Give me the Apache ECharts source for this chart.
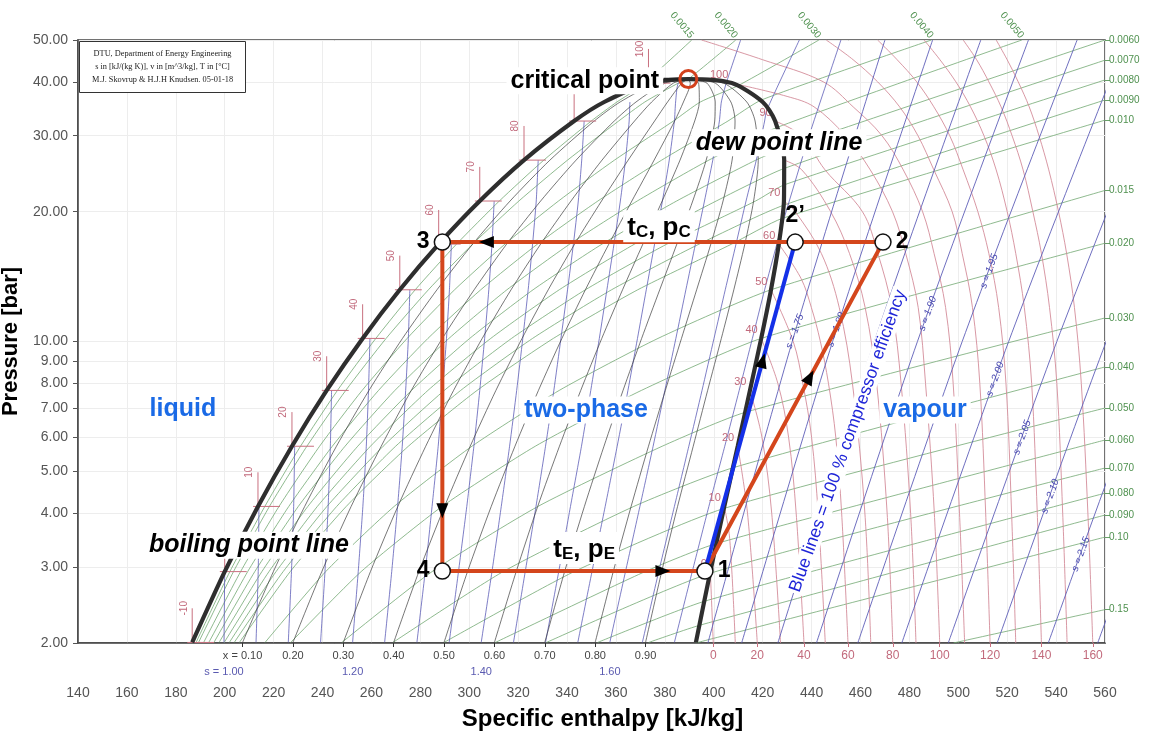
<!DOCTYPE html>
<html>
<head>
<meta charset="utf-8">
<title>R134a log p-h diagram</title>
<script src="https://cdn.jsdelivr.net/npm/echarts@6.0.0/dist/echarts.min.js"></script>
<style>
html,body{margin:0;padding:0;background:#ffffff;}
#chart{width:1149px;height:736px;}
</style>
</head>
<body>
<div id="chart"></div>
<script>
// ================= DATA =================
const pTicks = [2, 3, 4, 5, 6, 7, 8, 9, 10, 20, 30, 40, 50];

// saturation curve
const satT = [-10, 0, 10, 20, 30, 40, 50, 60, 70, 80, 90, 95, 100];
const satP = [2.006, 2.928, 4.146, 5.717, 7.702, 10.166, 13.179, 16.818, 21.168, 26.332, 32.442, 35.912, 39.724];
const satLiqH = [186.7, 200.0, 213.6, 227.5, 241.7, 256.4, 271.6, 287.5, 304.3, 322.4, 342.9, 355.2, 373.3];
const satVapH = [392.7, 398.6, 404.3, 409.8, 414.8, 419.4, 423.4, 426.6, 428.7, 428.8, 425.1, 420.0, 407.4];
const critH = 389.6, critP = 40.59;

// constant quality lines (h at satP, then critical point)
const qualityLabels = ['x = 0.10', '0.20', '0.30', '0.40', '0.50', '0.60', '0.70', '0.80', '0.90'];
const qualityH = [
  [207.3, 219.9, 232.7, 245.7, 259.0, 272.7, 286.8, 301.4, 316.7, 333.0, 351.1, 361.7, 376.7],
  [227.9, 239.7, 251.7, 264.0, 276.3, 289.0, 302.0, 315.3, 329.2, 343.7, 359.3, 368.2, 380.1],
  [248.5, 259.6, 270.8, 282.2, 293.6, 305.3, 317.1, 329.2, 341.6, 354.3, 367.6, 374.6, 383.5],
  [269.1, 279.4, 289.9, 300.4, 310.9, 321.6, 332.3, 343.1, 354.1, 365.0, 375.8, 381.1, 386.9],
  [289.7, 299.3, 309.0, 318.7, 328.3, 337.9, 347.5, 357.1, 366.5, 375.6, 384.0, 387.6, 390.4],
  [310.3, 319.2, 328.0, 336.9, 345.6, 354.2, 362.7, 371.0, 378.9, 386.2, 392.2, 394.1, 393.8],
  [330.9, 339.0, 347.1, 355.1, 362.9, 370.5, 377.9, 384.9, 391.4, 396.9, 400.4, 400.6, 397.2],
  [351.5, 358.9, 366.2, 373.3, 380.2, 386.8, 393.0, 398.8, 403.8, 407.5, 408.7, 407.0, 400.6],
  [372.1, 378.7, 385.2, 391.6, 397.5, 403.1, 408.2, 412.7, 416.3, 418.2, 416.9, 413.5, 404.0]
];

// isentropes in the two-phase region (h at satP) + continuation
const sWetNames = ['1.00', '1.05', '1.10', '1.15', '1.20', '1.25', '1.30', '1.35', '1.40', '1.45', '1.50', '1.55', '1.60', '1.65', '1.70'];
const sWetH = [
  [199.7, 200.0],
  [212.8, 213.7, 214.0],
  [226.0, 227.3, 228.2, 228.6],
  [239.2, 241.0, 242.3, 243.2, 243.7],
  [252.3, 254.6, 256.5, 257.9, 258.8, 259.4],
  [265.4, 268.3, 270.7, 272.6, 274.0, 275.1, 275.7],
  [278.6, 282.0, 284.8, 287.3, 289.1, 290.7, 291.9, 292.7],
  [291.8, 295.6, 299.0, 301.9, 304.3, 306.3, 308.0, 309.3, 310.2],
  [304.9, 309.3, 313.1, 316.5, 319.4, 321.9, 324.1, 325.9, 327.4, 328.2],
  [318.1, 322.9, 327.3, 331.2, 334.6, 337.5, 340.2, 342.6, 344.6, 346.0, 347.0],
  [331.2, 336.6, 341.4, 345.9, 349.7, 353.2, 356.3, 359.2, 361.8, 363.9, 365.4, 365.7],
  [344.4, 350.2, 355.6, 360.5, 364.9, 368.8, 372.4, 375.8, 379.0, 381.8, 383.9, 384.4, 385.5],
  [357.5, 363.9, 369.8, 375.2, 380.0, 384.5, 388.6, 392.5, 396.2, 399.6, 402.3, 403.1, 405.1],
  [370.8, 377.5, 383.9, 389.8, 395.2, 400.1, 404.7, 409.1, 413.2, 417.4, 420.8],
  [383.9, 391.2, 398.0, 404.5, 410.4, 415.8, 420.8, 425.8]
];
const sWetTail = [[], [], [], [], [], [], [], [], [], [], [],
  [[389.6, 40.59]],
  [[411.0, 50]],
  [[421.6, 34.3], [435.0, 50]],
  [[427.3, 18.1], [439.0, 30], [452.0, 50]]
];

// isentropes in the vapour region: h at 2, 10 and 50 bar
const sVapNames = ['1.75', '1.80', '1.85', '1.90', '1.95', '2.00', '2.05', '2.10', '2.15', '2.20'];
const sVapP = [2, 10, 50];
const sVapH = [
  [397.6, 432.1, 470.0],
  [411.4, 448.6, 489.5],
  [426.2, 465.7, 509.2],
  [442.0, 483.3, 528.7],
  [458.9, 501.6, 548.6],
  [476.9, 520.6, 568.6],
  [495.9, 540.3, 589.0],
  [515.9, 560.5, 610.0],
  [536.8, 582.0, 632.0],
  [557.0, 603.0, 653.0]
];

// isotherms in the vapour / supercritical region: [h, p]
const isothermT = [0, 10, 20, 30, 40, 50, 60, 70, 80, 90, 100, 110, 120, 130, 140, 150, 160];
const isothermHP = [
  [[398.6, 2.928], [399.8, 2.0]],
  [[404.3, 4.146], [406.5, 3.5], [408.8, 2.0]],
  [[409.8, 5.717], [413.8, 4.0], [417.8, 2.0]],
  [[414.8, 7.702], [419.7, 6.0], [423.7, 4.0], [427.3, 2.0]],
  [[419.4, 10.166], [426.2, 8.0], [430.6, 6.0], [433.7, 4.0], [436.9, 2.0]],
  [[423.4, 13.179], [432.5, 10.0], [436.4, 8.0], [440.0, 6.0], [442.7, 4.0], [445.6, 2.0]],
  [[426.6, 16.818], [435.7, 14.0], [439.9, 12.0], [443.6, 10.0], [446.9, 8.0], [449.9, 6.0], [452.3, 4.0], [454.9, 2.0]],
  [[428.7, 21.168], [433.3, 20.0], [444.0, 16.0], [451.3, 12.0], [456.7, 8.0], [461.8, 4.0], [464.2, 2.0]],
  [[428.8, 26.332], [436.0, 25.0], [447.8, 20.0], [455.5, 16.0], [461.9, 12.0], [466.6, 8.0], [470.9, 4.0], [473.2, 2.0]],
  [[425.1, 32.442], [435.8, 30.0], [445.5, 25.0], [460.8, 20.0], [467.1, 16.0], [472.8, 12.0], [476.6, 8.0], [480.5, 4.0], [482.7, 2.0]],
  [[407.4, 39.724], [430.0, 37.0], [441.0, 35.0], [453.8, 30.0], [464.0, 25.0], [473.1, 20.0], [478.5, 16.0], [483.6, 12.0], [486.6, 8.0], [490.2, 4.0], [492.4, 2.0]],
  [[395.0, 50.0], [420.0, 45.0], [444.8, 40.0], [457.0, 35.0], [468.8, 30.0], [477.5, 25.0], [485.4, 20.0], [490.1, 16.0], [494.8, 12.0], [497.9, 8.0], [500.5, 4.0], [502.6, 2.0]],
  [[446.0, 50.0], [457.0, 45.0], [467.0, 40.0], [476.0, 35.0], [483.5, 30.0], [490.0, 25.0], [497.5, 20.0], [501.6, 16.0], [505.8, 12.0], [508.8, 8.0], [511.2, 4.0], [513.0, 2.0]],
  [[467.0, 50.0], [475.0, 45.0], [483.0, 40.0], [490.0, 35.0], [496.5, 30.0], [502.0, 25.0], [508.0, 20.0], [512.5, 16.0], [516.5, 12.0], [519.5, 8.0], [521.8, 4.0], [523.5, 2.0]],
  [[486.0, 50.0], [492.5, 45.0], [499.0, 40.0], [505.0, 35.0], [510.5, 30.0], [515.5, 25.0], [520.0, 20.0], [523.5, 16.0], [527.0, 12.0], [530.0, 8.0], [532.3, 4.0], [534.0, 2.0]],
  [[502.0, 50.0], [507.5, 45.0], [512.5, 40.0], [517.5, 35.0], [522.0, 30.0], [526.5, 25.0], [530.5, 20.0], [534.0, 16.0], [537.3, 12.0], [540.3, 8.0], [542.7, 4.0], [544.5, 2.0]],
  [[515.5, 50.0], [520.0, 45.0], [524.5, 40.0], [529.0, 35.0], [533.0, 30.0], [537.0, 25.0], [541.0, 20.0], [544.3, 16.0], [547.5, 12.0], [550.3, 8.0], [553.0, 4.0], [555.0, 2.0]]
];

// isochores: h at satP inside the dome, then [h, p] continuation
const isochoreNames = ['0.0015', '0.0020', '0.0030', '0.0040', '0.0050', '0.0060', '0.0070', '0.0080', '0.0090', '0.010', '0.015', '0.020', '0.030', '0.040', '0.050', '0.060', '0.070', '0.080', '0.090', '0.10', '0.15'];
const isochoreWetH = [
  [188.3, 202.1, 216.4, 231.0, 246.1, 261.8, 277.9, 294.8, 312.3, 330.5, 349.9, 360.4],
  [189.3, 203.6, 218.3, 233.6, 249.5, 266.0, 283.3, 301.4, 320.3, 340.2, 361.1, 371.8, 385.5],
  [191.4, 206.5, 222.2, 238.8, 256.2, 274.6, 294.0, 314.6, 336.5, 359.4, 383.5, 394.5],
  [193.5, 209.4, 226.2, 244.0, 262.9, 283.1, 304.7, 327.9, 352.6, 378.7, 405.8],
  [195.6, 212.3, 230.1, 249.2, 269.6, 291.7, 315.4, 341.1, 368.7, 398.0],
  [197.7, 215.2, 234.0, 254.4, 276.4, 300.2, 326.1, 354.3, 384.8, 417.2],
  [199.8, 218.1, 237.9, 259.6, 283.1, 308.8, 336.8, 367.6, 401.0],
  [201.9, 221.0, 241.8, 264.8, 289.8, 317.3, 347.5, 380.8, 417.1],
  [203.9, 223.9, 245.8, 269.9, 296.5, 325.9, 358.2, 394.0],
  [206.0, 226.8, 249.7, 275.1, 303.2, 334.4, 368.9, 407.3],
  [216.5, 241.3, 269.3, 301.1, 336.8, 377.2],
  [227.0, 255.8, 288.9, 327.0, 370.4],
  [247.9, 284.8, 328.1, 378.9],
  [268.8, 313.9, 367.3],
  [289.7, 342.9],
  [310.7, 371.9],
  [331.6],
  [352.5],
  [373.4],
  [],
  []
];
const isochoreTail = [
  [[370.0, 39.0], [391.0, 50]],
  [[389.6, 40.59], [409.0, 50]],
  [[410.0, 39.2], [443.0, 50]],
  [[419.5, 36.3], [489.0, 50]],
  [[426.2, 31.4], [526.0, 50]],
  [[428.5, 28.0], [560.0, 50]],
  [[428.9, 25.2], [560.0, 44.9]],
  [[429.0, 23.1], [560.0, 40.4]],
  [[428.6, 20.7], [560.0, 36.3]],
  [[428.1, 19.3], [560.0, 32.6]],
  [[423.4, 13.18], [560.0, 22.4]],
  [[419.4, 10.166], [560.0, 16.9]],
  [[412.8, 6.85], [560.0, 11.34]],
  [[408.0, 5.1], [560.0, 8.73]],
  [[404.1, 4.1], [560.0, 7.01]],
  [[401.0, 3.4], [560.0, 5.91]],
  [[398.4, 2.9], [560.0, 5.09]],
  [[396.3, 2.5], [560.0, 4.45]],
  [[394.4, 2.2], [560.0, 3.96]],
  [[392.6, 2.0], [560.0, 3.52]],
  [[498.0, 2.0], [560.0, 2.39]]
];

// refrigeration cycle state points
const cycleNames = ['1', '2\u2019', '2', '3', '4'];
const cycleH = [396.4, 433.3, 469.2, 289.0, 289.0];
const cycleP = [2.937, 17.0, 17.0, 17.0, 2.937];

// ================= BUILD =================
const LG = v => Math.log10(v);
const PT = (h, p) => [h, LG(p)];
const F = "'Liberation Sans', Arial, Helvetica, sans-serif";
const FN = "'Liberation Sans Narrow', 'Liberation Sans', Arial, sans-serif";
const COL = {
  isen: '#5d5db8', iso: '#d48c9a', vol: '#72a872', qual: '#3c3c3c', dome: '#2e2e2e',
  cyc: '#d4461c', blue: '#1430e8', txtBlue: '#1a6ae6', pinkTxt: '#c26a7c', greenTxt: '#4f914f'
};
const TRANSP = { color: 'rgba(0,0,0,0)', opacity: 1 };
const NOBORDER = { textBorderWidth: 0, textShadowBlur: 0, opacity: 1 };
const series = [];
function addLine(pairs, color, width, z, smooth, extra) {
  series.push(Object.assign({
    type: 'line', data: pairs.map(q => PT(q[0], q[1])), symbol: 'none', showSymbol: false,
    silent: true, smooth: smooth || false, lineStyle: { color: color, width: width, opacity: 1 },
    z: z, animation: false, clip: true
  }, extra || {}));
}
function lookupFmt(vals, texts) {
  return function (v) {
    for (let i = 0; i < vals.length; i++) if (Math.abs(vals[i] - v) < 1e-6) return texts[i];
    return '';
  };
}

// isochores
isochoreNames.forEach((n, k) => {
  const pairs = isochoreWetH[k].map((h, i) => [h, satP[i]]).concat(isochoreTail[k]);
  addLine(pairs, COL.vol, 0.8, 1, 0.2);
});
// isotherms
isothermT.forEach((t, k) => addLine(isothermHP[k], COL.iso, 0.9, 1, 0.35));
// isentropes
sWetNames.forEach((n, k) => {
  const pairs = sWetH[k].map((h, i) => [h, satP[i]]).concat(sWetTail[k]);
  addLine(pairs, COL.isen, 0.8, 1, 0.2);
});
sVapNames.forEach((n, k) => addLine(sVapH[k].map((h, i) => [h, sVapP[i]]), COL.isen, 0.9, 1, 0.3));
// quality lines
qualityLabels.forEach((n, k) => {
  const pairs = qualityH[k].map((h, i) => [h, satP[i]]).concat([[critH, critP]]);
  addLine(pairs, COL.qual, 0.7, 2, 0.25);
});
// temperature crosses on the boiling line + labels
const crossLabels = [];
satT.forEach((t, i) => {
  if (t % 10 !== 0) return;
  const hf = satLiqH[i], p = satP[i];
  addLine([[hf - 2, p], [hf + 9, p]], '#c9707f', 1, 2);
  addLine([[hf, p], [hf, p * 1.2]], '#c9707f', 1, 2);
  crossLabels.push({ value: PT(hf - 3.4, p * 1.2), label: { formatter: String(t) } });
});
series.push({
  type: 'scatter', data: crossLabels, symbolSize: 1, itemStyle: TRANSP, silent: true, z: 3,
  label: Object.assign({ show: true, position: 'inside', rotate: 90, color: COL.pinkTxt, fontSize: 10, fontFamily: FN }, NOBORDER)
});
// temperature labels next to the dew line
const dewLabels = [];
isothermT.forEach((t, k) => {
  if (t > 100) return;
  const q = isothermHP[k][0];
  dewLabels.push({ value: PT(q[0], q[1]), label: { formatter: String(t) } });
});
series.push({
  type: 'scatter', data: dewLabels, symbolSize: 1, itemStyle: TRANSP, silent: true, z: 3,
  label: Object.assign({ show: true, position: 'left', distance: 3, offset: [0, -8], color: COL.pinkTxt, fontSize: 11, fontFamily: FN }, NOBORDER)
});

// saturation dome
const domePairs = satLiqH.map((h, i) => [h, satP[i]]).concat([[critH, critP]])
  .concat(satVapH.map((h, i) => [h, satP[i]]).reverse());
addLine(domePairs, COL.dome, 4.2, 4, 0.25);

// isentrope labels in the vapour region (layout: pressure along each line where label sits)
const sLabelAt = { '1.75': 11.1, '1.80': 11.2, '1.90': 12.2, '1.95': 15.3, '2.00': 8.6, '2.05': 6.3, '2.10': 4.6, '2.15': 3.38, '2.20': 2.25 };
const sLabelItems = [];
sVapNames.forEach((n, k) => {
  const p = sLabelAt[n];
  if (!p) return;
  let i = (p <= sVapP[1]) ? 0 : 1;
  const f = (LG(p) - LG(sVapP[i])) / (LG(sVapP[i + 1]) - LG(sVapP[i]));
  const h = sVapH[k][i] + f * (sVapH[k][i + 1] - sVapH[k][i]);
  sLabelItems.push({ value: PT(h, p), label: { formatter: 's = ' + n } });
});
series.push({
  type: 'scatter', data: sLabelItems, symbolSize: 1, itemStyle: TRANSP, silent: true, z: 3,
  label: Object.assign({ show: true, position: 'inside', offset: [-10, 0], rotate: 70, color: '#4848b0', fontSize: 10, fontFamily: FN, fontStyle: 'italic' }, NOBORDER)
});

// cycle
const CP = i => [cycleH[i], cycleP[i]];
addLine([CP(0), CP(2), CP(3), CP(4), CP(0)], COL.cyc, 4, 6);
addLine([CP(0), CP(1)], COL.blue, 4, 7);

// critical point marker and leader
addLine([[379.5, critP], [386.0, critP]], '#222', 2.5, 6);
series.push({
  type: 'scatter', data: [PT(critH, critP)], symbol: 'circle', symbolSize: 17, silent: true, z: 8,
  itemStyle: { color: 'rgba(0,0,0,0)', borderColor: '#d2401c', borderWidth: 3, opacity: 1 }
});

// state points
const labelPos = ['right', 'top', 'right', 'left', 'left'];
series.push({
  type: 'scatter', z: 9, silent: true, symbol: 'circle', symbolSize: 16,
  itemStyle: { color: '#fff', borderColor: '#111', borderWidth: 1.5, opacity: 1 },
  data: cycleNames.map((n, i) => ({
    value: PT(cycleH[i], cycleP[i]),
    label: Object.assign({ show: true, formatter: n, position: labelPos[i], distance: i === 1 ? 6 : 4, fontSize: 23, fontWeight: 'bold', fontFamily: F, color: '#000' }, NOBORDER)
  }))
});

// arrows (segment from, to, fraction)
const arrowSpec = [[2, 3, 0.90], [3, 4, 0.817], [4, 0, 0.84], [0, 1, 0.64], [0, 2, 0.59]];
series.push({ id: 'arrows', type: 'scatter', z: 8, silent: true, symbol: 'triangle', symbolSize: [12, 15], itemStyle: { color: '#000', opacity: 1 }, data: [] });

// text annotations
const ann = [];
function note(h, p, label) { ann.push({ value: PT(h, p), label: Object.assign({ show: true, fontFamily: F, color: '#000', fontWeight: 'bold' }, NOBORDER, label) }); }
const boxBg = { backgroundColor: '#fff', padding: [1, 4] };
note(379.5, 40.2, Object.assign({ formatter: 'critical point', position: 'left', distance: 0, fontSize: 25 }, boxBg));
note(426.7, 28.9, Object.assign({ formatter: 'dew point line', position: 'inside', fontSize: 25, fontStyle: 'italic' }, boxBg));
note(209.9, 3.37, Object.assign({ formatter: 'boiling point line', position: 'inside', fontSize: 25, fontStyle: 'italic' }, boxBg));
note(182.9, 6.97, { formatter: 'liquid', position: 'inside', fontSize: 25, color: COL.txtBlue });
note(347.8, 6.94, Object.assign({ formatter: 'two-phase', position: 'inside', fontSize: 25, color: COL.txtBlue }, boxBg));
note(486.4, 6.94, Object.assign({ formatter: 'vapour', position: 'inside', fontSize: 25, color: COL.txtBlue }, boxBg));
note(454.9, 5.88, { formatter: 'Blue lines = 100 % compressor efficiency', position: 'inside', rotate: 70.5, fontSize: 17.5, fontWeight: 'normal', color: '#1f25d8', backgroundColor: '#fff', padding: [0, 2] });
const richSub = {
  a: { fontSize: 26, fontWeight: 'bold', fontFamily: F, color: '#000', lineHeight: 30, verticalAlign: 'bottom', textBorderWidth: 0 },
  s: { fontSize: 17, fontWeight: 'bold', fontFamily: F, color: '#000', lineHeight: 10, verticalAlign: 'bottom', textBorderWidth: 0 }
};
note(377.6, 18.5, Object.assign({ formatter: '{a|t}{s|C}{a|, p}{s|C}', rich: richSub, position: 'inside' }, boxBg));
note(347.0, 3.32, Object.assign({ formatter: '{a|t}{s|E}{a|, p}{s|E}', rich: richSub, position: 'inside' }, boxBg));
series.push({ type: 'scatter', data: ann, symbolSize: 1, itemStyle: TRANSP, silent: true, z: 10 });

// axis helper label sets
const tLabT = isothermT.filter(t => t % 20 === 0);
const tLabH = tLabT.map(t => { const arr = isothermHP[isothermT.indexOf(t)]; return arr[arr.length - 1][0]; });
const qLabH = qualityH.map(a => a[0]);
const sLabNames = ['1.00', '1.20', '1.40', '1.60'];
const sLabH = sLabNames.map(n => sWetH[sWetNames.indexOf(n)][0]);
const sLabTxt = ['s = 1.00', '1.20', '1.40', '1.60'];
const rightV = [], rightTxt = [], topV = [], topTxt = [];
isochoreTail.forEach((t, k) => {
  const last = t[t.length - 1];
  if (last[0] >= 559.9) { rightV.push(LG(last[1])); rightTxt.push(isochoreNames[k]); }
  else if (last[1] >= 49.99) { topV.push(last[0]); topTxt.push(isochoreNames[k]); }
});
const yTickV = pTicks.map(LG);

const hidden = { show: false };
const infoFont = '8.3px "Liberation Serif", "DejaVu Serif", serif';
function infoText(y, s) {
  return { type: 'text', x: 83, y: y, z: 100, style: { text: s, font: infoFont, fill: '#222', align: 'center', verticalAlign: 'top', textAlign: 'center', textVerticalAlign: 'top' } };
}
const option = {
  backgroundColor: '#ffffff',
  animation: false,
  grid: { left: 78, right: 44, top: 40, bottom: 93, show: true, borderColor: '#444', borderWidth: 1.5, backgroundColor: '#fff', containLabel: false, outerBoundsMode: 'none' },
  xAxis: [
    {
      type: 'value', min: 140, max: 560, interval: 20, position: 'bottom',
      axisLine: { show: true, lineStyle: { color: '#444', width: 1.5 } }, axisTick: hidden,
      axisLabel: { color: '#555', fontSize: 14, margin: 43, fontFamily: FN },
      splitLine: { show: true, lineStyle: { color: '#ededed', width: 1 } },
      name: 'Specific enthalpy [kJ/kg]', nameLocation: 'middle', nameGap: 64,
      nameTextStyle: { fontFamily: F, fontWeight: 'bold', fontSize: 24, color: '#000', padding: [0, 0, 0, 22] }
    },
    {
      type: 'value', min: 140, max: 560, position: 'bottom', axisLine: hidden, splitLine: hidden,
      axisTick: { show: true, customValues: tLabH, length: 4, inside: false, lineStyle: { color: '#c9707f' } },
      axisLabel: { customValues: tLabH, formatter: lookupFmt(tLabH, tLabT.map(String)), color: COL.pinkTxt, fontSize: 12, margin: 7, fontFamily: FN }
    },
    {
      type: 'value', min: 140, max: 560, position: 'bottom', axisLine: hidden, splitLine: hidden,
      axisTick: { show: true, customValues: qLabH, length: 4, lineStyle: { color: '#333' } },
      axisLabel: { customValues: qLabH, formatter: lookupFmt(qLabH, qualityLabels), color: '#444', fontSize: 11, margin: 7, fontFamily: FN }
    },
    {
      type: 'value', min: 140, max: 560, position: 'bottom', axisLine: hidden, splitLine: hidden, axisTick: hidden,
      axisLabel: { customValues: sLabH, formatter: lookupFmt(sLabH, sLabTxt), color: '#5a5ab0', fontSize: 11, margin: 23, fontFamily: FN }
    },
    {
      type: 'value', min: 140, max: 560, position: 'top', axisLine: hidden, splitLine: hidden, axisTick: hidden,
      axisLabel: { customValues: topV, formatter: lookupFmt(topV, topTxt), color: COL.greenTxt, fontSize: 10, margin: 3, rotate: 50, fontFamily: FN }
    }
  ],
  yAxis: [
    {
      type: 'value', min: LG(2), max: LG(50), position: 'left',
      axisLine: { show: true, lineStyle: { color: '#444', width: 1.5 } },
      axisTick: { show: true, customValues: yTickV, length: 5, lineStyle: { color: '#555' } },
      axisLabel: { customValues: yTickV, formatter: v => Math.pow(10, v).toFixed(2), color: '#555', fontSize: 14, margin: 10, fontFamily: FN },
      splitLine: { show: true, lineStyle: { color: '#ededed', width: 1 } },
      name: 'Pressure [bar]', nameLocation: 'middle', nameGap: 50,
      nameTextStyle: { fontFamily: F, fontWeight: 'bold', fontSize: 22, color: '#000' }
    },
    {
      type: 'value', min: LG(2), max: LG(50), position: 'right', axisLine: hidden, splitLine: hidden,
      axisTick: { show: true, customValues: rightV, length: 5, lineStyle: { color: '#6aa06a' } },
      axisLabel: { customValues: rightV, formatter: lookupFmt(rightV, rightTxt), color: COL.greenTxt, fontSize: 10, margin: 4, fontFamily: FN }
    }
  ],
  graphic: [{
    type: 'group', left: 79, top: 41, z: 100,
    children: [
      { type: 'rect', z: 99, shape: { x: 0, y: 0, width: 166, height: 51 }, style: { fill: '#fff', stroke: '#333', lineWidth: 1 } },
      infoText(8, 'DTU, Department of Energy Engineering'),
      infoText(21, 's in [kJ/(kg K)], v in [m^3/kg], T in [\u00B0C]'),
      infoText(34, 'M.J. Skovrup & H.J.H Knudsen. 05-01-18')
    ]
  }],
  series: series
};

const chart = echarts.init(document.getElementById('chart'), null, { renderer: 'canvas' });
chart.setOption(option);

// place arrow heads along cycle segments, oriented in screen space
const arrowData = arrowSpec.map(a => {
  const A = PT(cycleH[a[0]], cycleP[a[0]]), B = PT(cycleH[a[1]], cycleP[a[1]]);
  const f = a[2];
  const M = [A[0] + f * (B[0] - A[0]), A[1] + f * (B[1] - A[1])];
  const pa = chart.convertToPixel({ xAxisIndex: 0, yAxisIndex: 0 }, A);
  const pb = chart.convertToPixel({ xAxisIndex: 0, yAxisIndex: 0 }, B);
  const dx = pb[0] - pa[0], dy = pb[1] - pa[1];
  const rot = Math.atan2(-dx, -dy) * 180 / Math.PI;
  return { value: M, symbolRotate: rot };
});
chart.setOption({ series: [{ id: 'arrows', data: arrowData }] });
</script>
</body>
</html>
